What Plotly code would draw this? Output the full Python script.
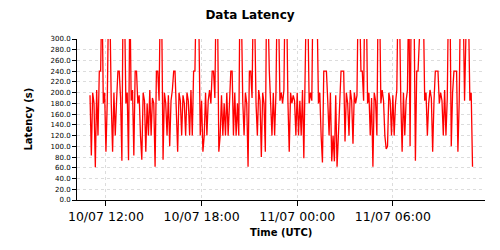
import pandas as pd
import plotly.graph_objects as go

# ---- data ----
start_time = "2023-07-10 11:00"
step = "5min"
latency = [
    195, 83, 200, 180, 61, 205, 120, 240, 240, 400,
    180, 200, 90, 185, 380, 350, 180, 90, 200, 120,
    185, 240, 240, 190, 73, 420, 360, 180, 200, 74,
    390, 185, 205, 83, 240, 240, 180, 195, 120, 75,
    200, 185, 90, 180, 120, 205, 120, 190, 180, 62,
    240, 240, 185, 400, 340, 75, 200, 180, 120, 195,
    100, 185, 205, 240, 240, 180, 90, 200, 185, 120,
    195, 180, 120, 200, 185, 120, 205, 120, 240, 240,
    400, 380, 320, 120, 185, 90, 120, 200, 120, 185,
    205, 180, 240, 240, 190, 400, 360, 90, 120, 195,
    120, 180, 120, 200, 120, 185, 240, 240, 120, 200,
    120, 180, 120, 420, 350, 185, 120, 200, 180, 62,
    240, 240, 190, 400, 340, 180, 120, 205, 185, 80,
    200, 180, 90, 400, 360, 240, 190, 120, 200, 120,
    200, 400, 350, 185, 200, 180, 205, 420, 380, 185,
    90, 200, 180, 195, 185, 120, 200, 120, 185, 120,
    205, 78, 240, 400, 360, 180, 200, 185, 420, 380,
    400, 350, 180, 200, 120, 70, 240, 240, 240, 185,
    120, 200, 72, 120, 72, 195, 62, 120, 185, 240,
    240, 240, 109, 200, 180, 120, 205, 185, 105, 200,
    180, 195, 400, 360, 240, 240, 185, 420, 380, 180,
    200, 120, 190, 62, 200, 185, 120, 400, 380, 180,
    205, 185, 120, 95, 100, 200, 185, 120, 195, 120,
    180, 205, 400, 360, 185, 90, 200, 120, 185, 205,
    400, 100, 420, 380, 350, 73, 240, 240, 400, 380,
    420, 360, 185, 200, 120, 180, 205, 190, 90, 185,
    240, 240, 240, 180, 200, 185, 120, 205, 120, 190,
    400, 380, 100, 200, 240, 240, 240, 90, 185, 400,
    380, 360, 185, 400, 420, 350, 185, 200, 62,
]
times = pd.date_range(start=start_time, periods=len(latency), freq=step)

x_range = ["2023-07-10 10:11", "2023-07-11 11:47"]
y_range = [0, 300]

FONT = "DejaVu Sans"

fig = go.Figure()
fig.add_trace(go.Scatter(
    x=times, y=latency, mode="lines",
    line=dict(color="#ff0000", width=1.3),
    hoverinfo="skip", showlegend=False,
))

fig.update_layout(
    width=500, height=250,
    margin=dict(l=77, r=15, t=39, b=50),
    paper_bgcolor="white", plot_bgcolor="white",
    font=dict(family=FONT, color="black"),
    title=dict(text="<b>Data Latency</b>", x=0.5, xref="container",
               y=1 - 15 / 250, yref="container", yanchor="middle", xanchor="center",
               font=dict(size=12, family=FONT, color="black")),
)

fig.update_xaxes(
    range=x_range, type="date",
    tick0="2023-07-10 00:00", dtick=6 * 3600 * 1000,
    tickformat="%d/%m %H:%M",
    tickfont=dict(size=12.5, family=FONT, color="black"),
    ticks="outside", ticklen=5, tickcolor="black",
    showline=True, linecolor="black", linewidth=1,
    showgrid=True, gridcolor="#dcdcdc", griddash="dot", gridwidth=1,
    zeroline=False,
)
fig.update_yaxes(
    range=y_range, dtick=20, tick0=0, tickformat=".1f",
    tickfont=dict(size=7, family=FONT, color="black"),
    ticks="outside", ticklen=4, tickcolor="black",
    showline=True, linecolor="black", linewidth=1,
    showgrid=True, gridcolor="#dcdcdc", griddash="dot", gridwidth=1,
    zeroline=False,
)

fig.add_annotation(text="<b>Time (UTC)</b>", xref="paper", yref="paper",
                   x=0.5, y=-(232.7 - 200) / 161, xanchor="center", yanchor="middle",
                   showarrow=False, font=dict(size=10, family=FONT, color="black"))
fig.add_annotation(text="<b>Latency (s)</b>", xref="paper", yref="paper",
                   x=(28 - 77) / 408, y=0.5, xanchor="center", yanchor="middle",
                   textangle=-90, showarrow=False,
                   font=dict(size=10, family=FONT, color="black"))

fig.write_html("out.html")
